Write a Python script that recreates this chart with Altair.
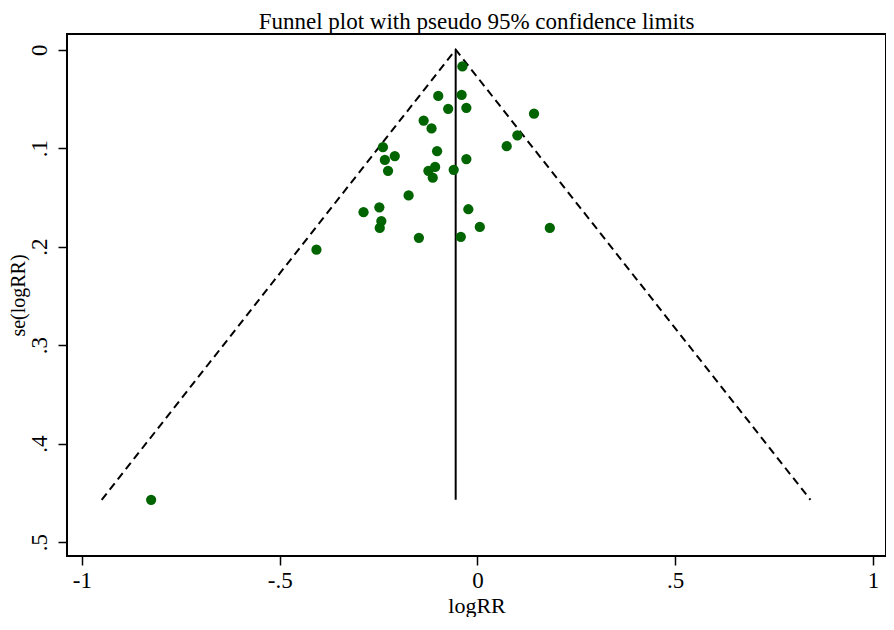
import altair as alt
import pandas as pd

# Study estimates
log_rr = [-0.038, -0.099, -0.040, -0.074, -0.028, 0.143, -0.136, -0.116, 0.101, 0.074,
          -0.239, -0.209, -0.234, -0.102, -0.028, -0.226, -0.107, -0.124, -0.113, -0.060,
          -0.174, -0.248, -0.288, -0.023, -0.243, -0.247, 0.006, 0.183, -0.148, -0.042,
          -0.407, -0.825]
se_log_rr = [0.017, 0.047, 0.046, 0.060, 0.059, 0.065, 0.072, 0.080, 0.087, 0.098,
             0.099, 0.108, 0.112, 0.103, 0.111, 0.123, 0.119, 0.123, 0.130, 0.122,
             0.148, 0.160, 0.165, 0.162, 0.174, 0.181, 0.180, 0.181, 0.191, 0.190,
             0.203, 0.457]

# Pooled estimate line and pseudo 95% limits (end points)
pooled_x = [-0.055, -0.055]
pooled_y = [0.0, 0.457]
limit_x = [-0.950, -0.055, 0.842]
limit_y = [0.457, 0.0, 0.457]

x_ticks = [-1, -0.5, 0, 0.5, 1]
x_tick_labels = ["-1", "-.5", "0", ".5", "1"]
y_ticks = [0, 0.1, 0.2, 0.3, 0.4, 0.5]
y_tick_labels = ["0", ".1", ".2", ".3", ".4", ".5"]


def label_expr(values, labels):
    expr = "''"
    for v, l in reversed(list(zip(values, labels))):
        expr = f"abs(datum.value - ({v})) < 1e-9 ? '{l}' : ({expr})"
    return expr


FONT = "Liberation Serif"
W, H = 819, 522

pts = pd.DataFrame({"logRR": log_rr, "se": se_log_rr})
pooled = pd.DataFrame({"logRR": pooled_x, "se": pooled_y})
limits = pd.DataFrame({"logRR": limit_x, "se": limit_y, "order": [0, 1, 2]})

xscale = alt.Scale(domain=[-1.0377, 1.033], nice=False, zero=False)
yscale = alt.Scale(domain=[-0.0159, 0.514], nice=False, zero=False, reverse=True)

xaxis = alt.Axis(
    title="logRR", values=x_ticks, labelExpr=label_expr(x_ticks, x_tick_labels),
    grid=False, domain=False, ticks=True, tickSize=9, tickColor="black", tickWidth=1.5,
    labelFont=FONT, labelFontSize=23, labelColor="black", labelBaseline="alphabetic",
    labelAlign="center", labelPadding=22, labelFlush=False, labelOverlap=False,
    titleFont=FONT, titleFontSize=22, titleFontWeight="normal", titleColor="black",
    titleBaseline="alphabetic", titleAlign="center", titleX=W / 2, titleY=56,
)
yaxis = alt.Axis(
    title="se(logRR)", values=y_ticks, labelExpr=label_expr(y_ticks, y_tick_labels),
    grid=False, domain=False, ticks=True, tickSize=9, tickColor="black", tickWidth=1.5,
    labelFont=FONT, labelFontSize=23, labelColor="black", labelAngle=270,
    labelAlign="center", labelBaseline="alphabetic", labelPadding=12,
    labelFlush=False, labelOverlap=False,
    titleFont=FONT, titleFontSize=20, titleFontWeight="normal", titleColor="black",
    titleAngle=270, titleAlign="center", titleBaseline="alphabetic",
    titleX=-43, titleY=H / 2,
)

x_enc = alt.X("logRR:Q", scale=xscale, axis=xaxis)
y_enc = alt.Y("se:Q", scale=yscale, axis=yaxis)

limit_layer = alt.Chart(limits).mark_line(
    color="black", strokeWidth=2, strokeDash=[8, 5]
).encode(x=x_enc, y=y_enc, order="order:Q")

pooled_layer = alt.Chart(pooled).mark_line(color="black", strokeWidth=2).encode(
    x=alt.X("logRR:Q", scale=xscale), y=alt.Y("se:Q", scale=yscale)
)

point_layer = alt.Chart(pts).mark_circle(size=105, color="#006400", opacity=1).encode(
    x=alt.X("logRR:Q", scale=xscale), y=alt.Y("se:Q", scale=yscale)
)

chart = (
    alt.layer(limit_layer, pooled_layer, point_layer)
    .properties(
        width=W,
        height=H,
        title=alt.TitleParams(
            "Funnel plot with pseudo 95% confidence limits",
            font=FONT, fontSize=23, fontWeight="normal", color="black",
            anchor="middle", offset=0.5,
        ),
        autosize=alt.AutoSizeParams(type="none"),
        padding={"left": 59, "top": 26, "right": 0, "bottom": 61},
    )
    .configure(background="white")
    .configure_view(stroke="black", strokeWidth=2)
)

chart.save("out.html", embed_options={"renderer": "svg", "actions": False})
